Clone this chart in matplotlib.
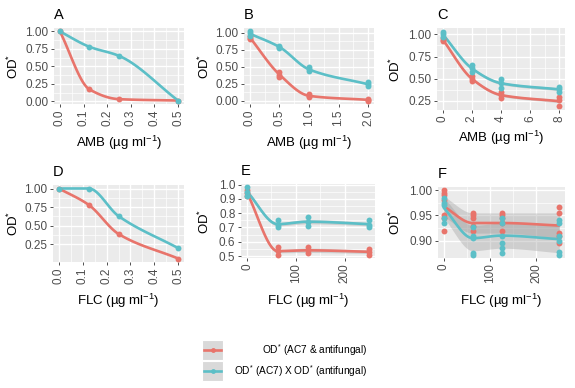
import numpy as np
import matplotlib
matplotlib.use('Agg')
import matplotlib.pyplot as plt
from matplotlib.patches import Rectangle
from matplotlib.lines import Line2D

plt.rcParams['font.family'] = ['Liberation Sans', 'DejaVu Sans']
plt.rcParams['mathtext.fontset'] = 'custom'
plt.rcParams['mathtext.rm'] = 'Liberation Sans'
plt.rcParams['mathtext.it'] = 'Liberation Sans:italic'

RED = '#E8746B'
CYAN = '#5CBFC7'

# ---- данные ----
A_x = [0, 0.125, 0.25, 0.5]
A_red = [[1.0], [0.17], [0.03], [0.01]]
A_cyan = [[1.0], [0.78], [0.65], [0.01]]

B_x = [0, 0.5, 1, 2]
B_red = [[0.91, 0.93, 0.95], [0.35, 0.38, 0.42], [0.05, 0.07, 0.09], [0.0, 0.01, 0.02]]
B_cyan = [[0.95, 0.99, 1.02], [0.77, 0.79, 0.81], [0.43, 0.46, 0.49], [0.21, 0.24, 0.27]]

C_x = [0, 2, 4, 8]
C_red = [[0.92, 0.94, 0.96], [0.47, 0.50, 0.53], [0.28, 0.32, 0.35], [0.19, 0.26, 0.29]]
C_cyan = [[0.97, 1.0, 1.03], [0.58, 0.62, 0.65], [0.40, 0.45, 0.50], [0.35, 0.38, 0.41]]
C_band = [0.015, 0.015, 0.015, 0.018]

D_x = [0, 0.125, 0.25, 0.5]
D_red = [[1.0], [0.78], [0.39], [0.06]]
D_cyan = [[1.0], [1.0], [0.63], [0.20]]

E_x = [0, 62.5, 125, 250]
E_red = [[0.92, 0.94, 0.96], [0.51, 0.535, 0.56], [0.52, 0.54, 0.56], [0.51, 0.53, 0.55]]
E_cyan = [[0.92, 0.95, 0.98], [0.70, 0.72, 0.75], [0.71, 0.74, 0.77], [0.70, 0.72, 0.75]]
E_band = [0.012, 0.012, 0.015, 0.012]

F_x = [0, 62.5, 125, 250]
F_red = [[1.0, 0.995, 0.99, 0.98, 0.95, 0.945, 0.92],
         [0.955, 0.95, 0.945, 0.93, 0.92],
         [0.955, 0.95, 0.945, 0.935, 0.92],
         [0.967, 0.955, 0.915, 0.91, 0.895]]
F_cyan = [[0.985, 0.975, 0.97, 0.945, 0.935],
          [0.928, 0.91, 0.905, 0.875, 0.872],
          [0.945, 0.935, 0.91, 0.895, 0.885, 0.875],
          [0.94, 0.935, 0.91, 0.9, 0.877, 0.872]]
F_red_fit = [0.968, 0.935, 0.935, 0.930]
F_cyan_fit = [0.965, 0.905, 0.910, 0.903]
F_red_band = [0.02, 0.02, 0.02, 0.025]
F_cyan_band = [0.02, 0.025, 0.025, 0.027]

AMB_label = 'AMB (µg ml$^{-1}$)'
FLC_label = 'FLC (µg ml$^{-1}$)'
legend_labels = [r'OD$^{*}$ (AC7 & antifungal)', r'OD$^{*}$ (AC7) X OD$^{*}$ (antifungal)']


def pchip(x, y, n=120):
    x = np.asarray(x, float)
    y = np.asarray(y, float)
    h = np.diff(x)
    d = np.diff(y) / h
    m = np.zeros_like(y)
    for k in range(1, len(x) - 1):
        if d[k - 1] * d[k] > 0:
            w1 = 2 * h[k] + h[k - 1]
            w2 = h[k] + 2 * h[k - 1]
            m[k] = (w1 + w2) / (w1 / d[k - 1] + w2 / d[k])
    m[0] = d[0]
    m[-1] = d[-1]
    xs = np.linspace(x[0], x[-1], n)
    idx = np.clip(np.searchsorted(x, xs) - 1, 0, len(x) - 2)
    t = (xs - x[idx]) / h[idx]
    h00 = 2 * t**3 - 3 * t**2 + 1
    h10 = t**3 - 2 * t**2 + t
    h01 = -2 * t**3 + 3 * t**2
    h11 = t**3 - t**2
    ys = h00 * y[idx] + h10 * h[idx] * m[idx] + h01 * y[idx + 1] + h11 * h[idx] * m[idx + 1]
    return xs, ys


W, H = 575, 388
fig = plt.figure(figsize=(W / 100, H / 100), dpi=100)


def px_axes(l, r, t, b):
    return fig.add_axes([l / W, 1 - b / H, (r - l) / W, (b - t) / H])


def draw_series(ax, x, reps, color, fit=None, band=None):
    xs_pts = [xv for xv, r in zip(x, reps) for _ in r]
    ys_pts = [v for r in reps for v in r]
    if fit is None:
        fit = [np.mean(r) for r in reps]
    cx, cy = pchip(x, fit)
    if band is not None:
        _, by = pchip(x, band)
        ax.fill_between(cx, cy - by, cy + by, color='#999999', alpha=0.35, lw=0, zorder=2)
    ax.plot(cx, cy, color=color, lw=1.9, zorder=3, solid_capstyle='round')
    ax.scatter(xs_pts, ys_pts, s=18, color=color, lw=0, zorder=4)


def style(ax, xticks, xlabels, yticks, ylabels):
    ax.set_facecolor('#EBEBEB')
    for s in ax.spines.values():
        s.set_visible(False)
    ax.set_xticks(xticks)
    ax.set_xticklabels(xlabels, rotation=90)
    ax.set_yticks(yticks)
    ax.set_yticklabels(ylabels)
    xt = np.asarray(xticks, float)
    yt = np.asarray(yticks, float)
    ax.set_xticks((xt[:-1] + xt[1:]) / 2, minor=True)
    ax.set_yticks((yt[:-1] + yt[1:]) / 2, minor=True)
    ax.grid(which='major', color='white', lw=1.0)
    ax.grid(which='minor', color='white', lw=0.5)
    ax.set_axisbelow(True)
    ax.tick_params(which='major', length=2.5, width=0.6, color='#333333',
                   labelsize=8.5, labelcolor='#4D4D4D', pad=1.5)
    ax.tick_params(which='minor', length=0)
    ax.margins(0.05)


panels = [
    ('A', (54, 184, 28, 104), A_x, A_red, A_cyan, None, None, None, None,
     [0, 0.1, 0.2, 0.3, 0.4, 0.5], ['0.0', '0.1', '0.2', '0.3', '0.4', '0.5'],
     [0, 0.25, 0.5, 0.75, 1.0], ['0.00', '0.25', '0.50', '0.75', '1.00'], AMB_label, 143),
    ('B', (244, 374, 28, 104), B_x, B_red, B_cyan, None, None, None, None,
     [0, 0.5, 1, 1.5, 2], ['0.0', '0.5', '1.0', '1.5', '2.0'],
     [0, 0.25, 0.5, 0.75, 1.0], ['0.00', '0.25', '0.50', '0.75', '1.00'], AMB_label, 143),
    ('C', (437, 565, 28, 110), C_x, C_red, C_cyan, None, None, C_band, C_band,
     [0, 2, 4, 6, 8], ['0', '2', '4', '6', '8'],
     [0.25, 0.5, 0.75, 1.0], ['0.25', '0.50', '0.75', '1.00'], AMB_label, 138),
    ('D', (53, 184, 185, 262), D_x, D_red, D_cyan, None, None, None, None,
     [0, 0.1, 0.2, 0.3, 0.4, 0.5], ['0.0', '0.1', '0.2', '0.3', '0.4', '0.5'],
     [0.25, 0.5, 0.75, 1.0], ['0.25', '0.50', '0.75', '1.00'], FLC_label, 301),
    ('E', (241, 375, 184, 258), E_x, E_red, E_cyan, None, None, E_band, E_band,
     [0, 100, 200], ['0', '100', '200'],
     [0.5, 0.6, 0.7, 0.8, 0.9, 1.0], ['0.5', '0.6', '0.7', '0.8', '0.9', '1.0'], FLC_label, 301),
    ('F', (438, 565, 187, 258), F_x, F_red, F_cyan, F_red_fit, F_cyan_fit, F_red_band, F_cyan_band,
     [0, 100, 200], ['0', '100', '200'],
     [0.90, 0.95, 1.00], ['0.90', '0.95', '1.00'], FLC_label, 301),
]

for (name, box, x, red, cyan, rfit, cfit, rband, cband,
     xt, xl, yt, yl, xlab, xlab_y) in panels:
    ax = px_axes(*box)
    draw_series(ax, x, red, RED, rfit, rband)
    draw_series(ax, x, cyan, CYAN, cfit, cband)
    style(ax, xt, xl, yt, yl)
    l, r, t, b = box
    fig.text(l / W, 1 - (t - 13) / H, name, fontsize=10.5, ha='left', va='center')
    ylab_x = {54: 13, 53: 13, 244: 204, 241: 204, 437: 395, 438: 395}[l]
    fig.text(ylab_x / W, 1 - ((t + b) / 2) / H, r'OD$^{*}$', fontsize=9.5,
             rotation=90, ha='center', va='center')
    fig.text(((l + r) / 2) / W, 1 - xlab_y / H, xlab, fontsize=9.5, ha='center', va='center')

# легенда
for i, (lab, col) in enumerate(zip(legend_labels, [RED, CYAN])):
    top = 340 + i * 21
    fig.patches.append(Rectangle((202 / W, 1 - (top + 20) / H), 21 / W, 20 / H,
                                 transform=fig.transFigure, facecolor='#D9D9D9',
                                 edgecolor='white', lw=0.8))
    yc = 1 - (top + 10) / H
    fig.lines.append(Line2D([204 / W, 221 / W], [yc, yc], transform=fig.transFigure,
                            color=col, lw=1.9))
    fig.lines.append(Line2D([212.5 / W], [yc], transform=fig.transFigure, color=col,
                            marker='o', ms=3.5, mew=0))
    fig.text(367 / W, yc, lab, fontsize=7.3, ha='right', va='center')

fig.savefig('out.png', dpi=100)
